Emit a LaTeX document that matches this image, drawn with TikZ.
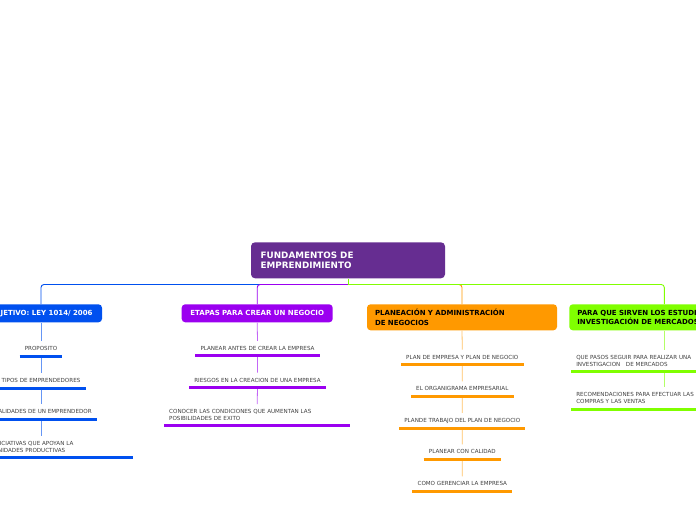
\documentclass[tikz,border=0pt]{standalone}
\usepackage{fontspec}
\newfontfamily\mapfont{DejaVu Sans}
\usetikzlibrary{positioning}
\usetikzlibrary{calc}
\definecolor{rootpurple}{RGB}{102,45,145}
\definecolor{cblue}{RGB}{0,80,239}
\definecolor{cpurple}{RGB}{155,0,240}
\definecolor{corange}{RGB}{255,153,0}
\definecolor{cgreen}{RGB}{128,255,0}

\begin{document}
\begin{tikzpicture}[x=1pt,y=-1pt,
        root/.style={fill=rootpurple, text=white, font=\mapfont\bfseries\fontsize{8.8}{10.7}\selectfont, rounded corners=4pt, inner xsep=9.7pt, text width=174.6pt, minimum height=36pt, align=left},
        topic/.style={fill=#1, rounded corners=3.5pt, font=\mapfont\bfseries\fontsize{7}{9.4}\selectfont, minimum height=18pt},
        topicwide/.style={topic=#1, text width=174pt, inner xsep=8pt, minimum height=26pt, align=left},
        sub/.style={font=\mapfont\fontsize{5.6}{7}\selectfont, text=black!75, inner xsep=5pt, inner ysep=5pt, align=left},
        subwide/.style={sub, text width=176pt},
        uline/.style={draw=#1, line width=3pt},
        link/.style={draw=#1, line width=0.9pt, rounded corners=3pt},
        sublink/.style={draw=#1!60, line width=0.8pt}]
        \fill[white] (0,0) rectangle (696,520);
        \useasboundingbox (0,0) rectangle (696,520);
        \clip (0,0) rectangle (696,520);

        \node[root] (root) at (348,260.3) {FUNDAMENTOS DE\\EMPRENDIMIENTO};
        \coordinate (hub) at ($(root.south)+(0,6)$);

        \node[topic=cblue, text=white, minimum width=122pt] (objetivo) at (41,313.3) {OBJETIVO: LEY 1014/ 2006};
        \node[topic=cpurple, text=white, minimum width=151pt] (etapas) at (257.2,313.3) {ETAPAS PARA CREAR UN NEGOCIO};
        \node[topicwide=corange] (planeacion) at (462,317.3) {PLANEACIÓN Y ADMINISTRACIÓN\\DE NEGOCIOS};
        \node[topicwide=cgreen] (mercados) at (664.3,317.3) {PARA QUE SIRVEN LOS ESTUDIOS DE\\INVESTIGACIÓN DE MERCADOS};

        \node[sub] (obj1) at (41,348.7) {PROPOSITO};
        \node[sub] (obj2) at (41,380.7) {TIPOS DE EMPRENDEDORES};
        \node[sub] (obj3) at (41,411.7) {CUALIDADES DE UN EMPRENDEDOR};
        \node[sub, text width=134pt] (obj4) at (61,446.7) {INICIATIVAS QUE APOYAN LA\\UNIDADES PRODUCTIVAS};

        \node[sub] (eta1) at (257.5,348.3) {PLANEAR ANTES DE CREAR LA EMPRESA};
        \node[sub] (eta2) at (257.5,380) {RIESGOS EN LA CREACION DE UNA EMPRESA};
        \node[subwide] (eta3) at (257.2,415) {CONOCER LAS CONDICIONES QUE AUMENTAN LAS\\POSIBILIDADES DE EXITO};

        \node[sub] (pla1) at (462.3,357) {PLAN DE EMPRESA Y PLAN DE NEGOCIO};
        \node[sub] (pla2) at (462.3,388.7) {EL ORGANIGRAMA EMPRESARIAL};
        \node[sub] (pla3) at (462.3,420.7) {PLANDE TRABAJO DEL PLAN DE NEGOCIO};
        \node[sub] (pla4) at (462.3,451.7) {PLANEAR CON CALIDAD};
        \node[sub] (pla5) at (462.3,483.7) {COMO GERENCIAR LA EMPRESA};

        \node[subwide] (mer1) at (664.3,360.5) {QUE PASOS SEGUIR PARA REALIZAR UNA\\INVESTIGACION \ \ DE MERCADOS};
        \node[subwide] (mer2) at (664.3,398.3) {RECOMENDACIONES PARA EFECTUAR LAS\\COMPRAS Y LAS VENTAS};

        \draw[link=cblue] (hub) -| (objetivo.north);
        \draw[link=cpurple] (hub) -| (etapas.north);
        \draw[link=corange] (hub) -| (planeacion.north);
        \draw[link=cgreen] (hub) -| (mercados.north);
        \draw[link=cgreen] (root.south) -- (hub);

        \draw[sublink=cblue] (objetivo.south) -- (obj1.north) (obj1.south) -- (obj2.north) (obj2.south) -- (obj3.north) (obj3.south) -- (obj3.south |- obj4.north);
        \draw[sublink=cpurple] (etapas.south) -- (eta1.north) (eta1.south) -- (eta2.north) (eta2.south) -- (eta3.north);
        \draw[sublink=corange] (planeacion.south) -- (pla1.north) (pla1.south) -- (pla2.north) (pla2.south) -- (pla3.north) (pla3.south) -- (pla4.north) (pla4.south) -- (pla5.north);
        \draw[sublink=cgreen] (mercados.south) -- (mer1.north) (mer1.south) -- (mer2.north);

        \foreach \n/\c in {obj1/cblue,obj2/cblue,obj3/cblue,obj4/cblue,eta1/cpurple,eta2/cpurple,eta3/cpurple,pla1/corange,pla2/corange,pla3/corange,pla4/corange,pla5/corange,mer1/cgreen,mer2/cgreen}
        \draw[uline=\c] (\n.south west) -- (\n.south east);
    \end{tikzpicture}
\end{document}
